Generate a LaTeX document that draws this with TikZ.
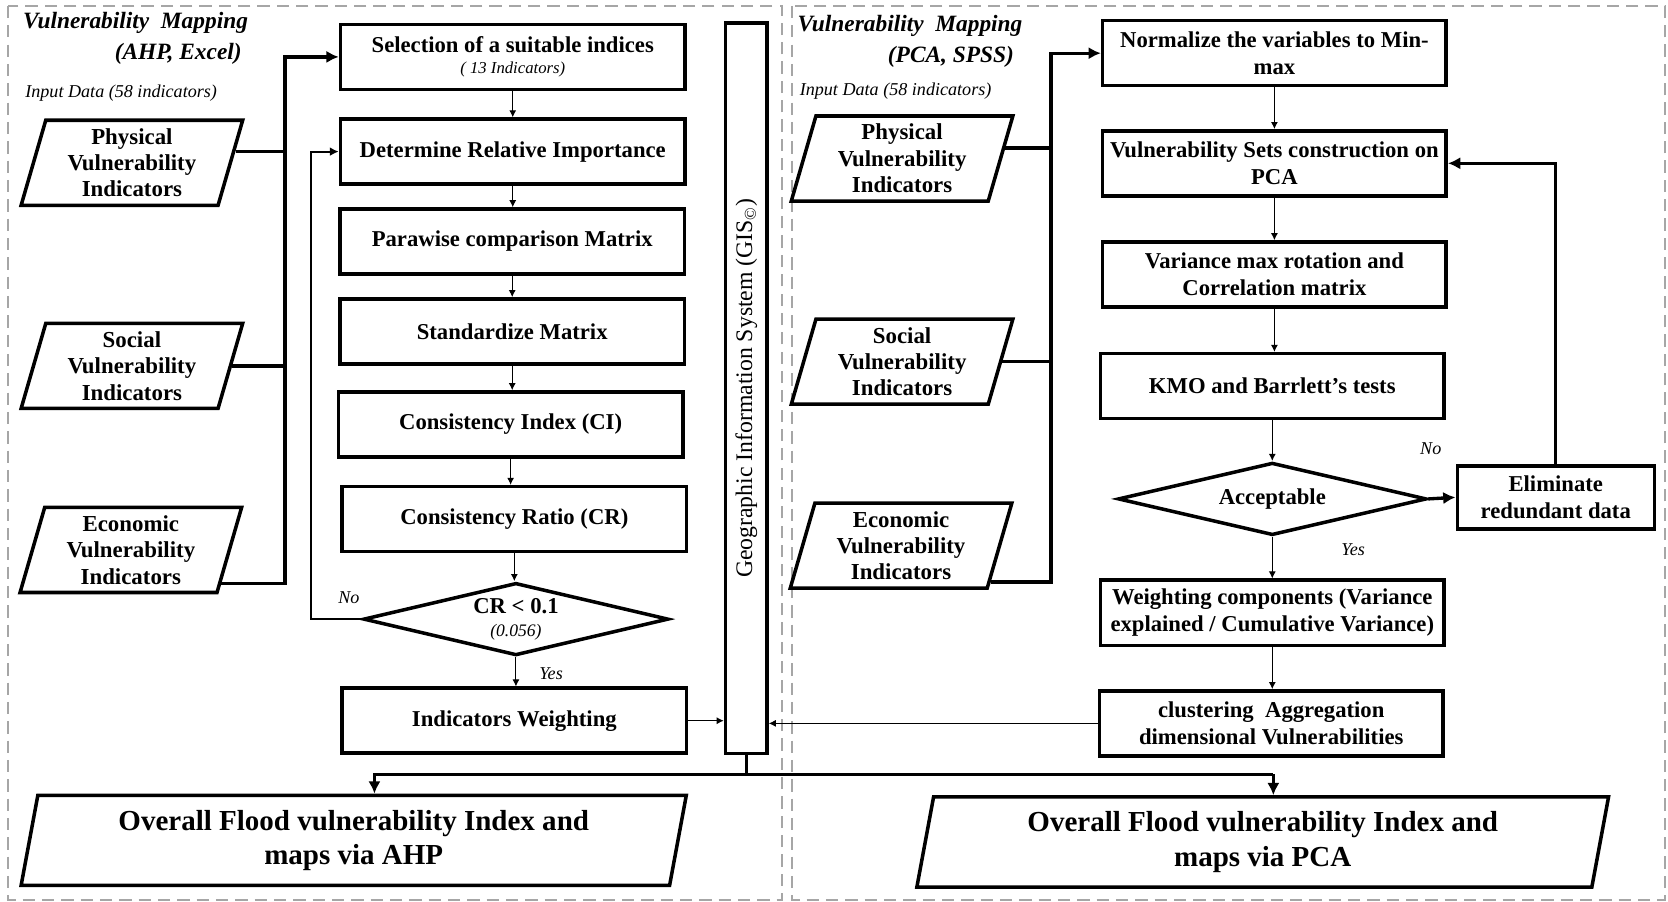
\documentclass[tikz,border=0pt]{standalone}
\usepackage{fontspec}
\setmainfont{Liberation Serif}
\usepackage{graphicx}
\usetikzlibrary{shapes.geometric,arrows.meta,calc}

\newcommand\boxfnt{\fontsize{12.9}{15.3}\selectfont\bfseries}
\newcommand\infnt{\fontsize{13}{15}\selectfont\bfseries}
\newcommand\outfnt{\fontsize{16.5}{19.5}\selectfont\bfseries}
\newcommand\ttlfnt{\fontsize{13.3}{16}\selectfont\bfseries\itshape}
\newcommand\notefnt{\fontsize{10.3}{12}\selectfont\itshape}
\newcommand\gisfnt{\fontsize{13.5}{15}\selectfont}

\begin{document}
\begin{tikzpicture}[x=0.021277cm,y=-0.021277cm,
  panel/.style={draw=black!35,line width=0.8pt,dash pattern=on 7pt off 4pt},
  box/.style={draw,line width=2pt,minimum width=6.89cm,minimum height=1.3cm,align=center,font=\boxfnt},
  inbox/.style={draw,line width=2pt,trapezium,trapezium left angle=73,trapezium right angle=107,trapezium stretches body,minimum width=4.43cm,minimum height=1.7cm,align=center,font=\infnt,inner xsep=0pt},
  outbox/.style={draw,line width=2pt,trapezium,trapezium left angle=77,trapezium right angle=103,trapezium stretches body,minimum height=1.8cm,align=center,font=\outfnt},
  decide/.style={draw,line width=2pt,diamond,aspect=4,minimum width=6.1cm,minimum height=1.45cm,inner sep=0pt,align=center,font=\boxfnt},
  lbl/.style={font=\notefnt},
  flow/.style={line width=0.6pt,-{Latex[length=4pt,width=4pt]}},
  bus/.style={line width=1.9pt},
  tip/.style={-{Latex[length=7pt,width=7pt]}}
]
\useasboundingbox (0,0) rectangle (1568,847);
\draw[panel] (7.5,5.5) rectangle (735,846);
\draw[panel] (744.5,5.5) rectangle (1565,846);

\node[font=\ttlfnt,anchor=west] (ttlA) at (16,22) {Vulnerability\ \ Mapping};
\node[font=\ttlfnt,anchor=east] (subA) at (233,51) {(AHP, Excel)};
\node[lbl,anchor=west] (dataA) at (18,88) {Input Data (58 indicators)};

\node[inbox] (physA) at (124,153) {Physical\\Vulnerability\\Indicators};
\node[inbox] (socA) at (124,344) {Social\\Vulnerability\\Indicators};
\node[inbox] (ecoA) at (123,517) {Economic\\Vulnerability\\Indicators};

\node[box] (sel) at (482,53.5) {Selection of a suitable indices\\[-3pt]{\fontsize{9.5}{11}\selectfont\mdseries\itshape ( 13 Indicators)}};
\node[box] (rel) at (482,142.5) {Determine Relative Importance};
\node[box] (pair) at (481.5,227) {Parawise comparison Matrix};
\node[box] (std) at (481.5,311.5) {Standardize Matrix};
\node[box] (ci) at (480,399) {Consistency Index (CI)};
\node[box] (cr) at (483.5,488) {Consistency Ratio (CR)};
\node[decide] (crtest) at (485,582) {CR \textless{} 0.1\\[-2pt]{\fontsize{10}{11}\selectfont\mdseries\itshape (0.056)}};
\node[box] (wgt) at (483.5,677.5) {Indicators Weighting};
\node[lbl] (noA) at (328,562) {No};
\node[lbl] (yesA) at (518,633) {Yes};

\node[draw,line width=2pt,minimum width=0.83cm,minimum height=14.6cm,inner sep=0pt,font=\gisfnt] (gis) at (701.5,365) {\rotatebox{90}{Geographic Information System (GIS\textsubscript{\textcopyright})}};

\node[font=\ttlfnt,anchor=west] (ttlB) at (744,24) {Vulnerability\ \ Mapping};
\node[font=\ttlfnt,anchor=east] (subB) at (959,53) {(PCA, SPSS)};
\node[lbl,anchor=west] (dataB) at (746,86) {Input Data (58 indicators)};

\node[inbox] (physB) at (848,149) {Physical\\Vulnerability\\Indicators};
\node[inbox] (socB) at (848,340) {Social\\Vulnerability\\Indicators};
\node[inbox] (ecoB) at (847,513) {Economic\\Vulnerability\\Indicators};

\node[box,minimum width=6.87cm] (norm) at (1198,50) {Normalize the variables to Min-\\max};
\node[box,minimum width=6.87cm] (sets) at (1198,153.5) {Vulnerability Sets construction on\\PCA};
\node[box,minimum width=6.87cm] (rot) at (1198,258) {Variance max rotation and\\Correlation matrix};
\node[box,minimum width=6.87cm] (kmo) at (1196,363) {KMO and Barrlett's tests};
\node[decide,minimum width=6.17cm] (acc) at (1196,469) {Acceptable};
\node[box,minimum width=3.94cm,minimum height=1.26cm] (elim) at (1462.5,467.5) {Eliminate\\redundant data};
\node[box,minimum width=6.87cm] (comp) at (1196,576) {Weighting components (Variance\\explained / Cumulative Variance)};
\node[box,minimum width=6.87cm] (clus) at (1195,680) {clustering\ \ Aggregation\\dimensional Vulnerabilities};
\node[lbl] (noB) at (1345,422) {No};
\node[lbl] (yesB) at (1272,517) {Yes};

\node[outbox,minimum width=13.3cm] (outA) at (332.5,790) {Overall Flood vulnerability Index and\\maps via AHP};
\node[outbox,minimum width=13.83cm] (outB) at (1187,791.5) {Overall Flood vulnerability Index and\\maps via PCA};

\coordinate (busA) at (268,0);
\coordinate (busB) at (988,0);
\coordinate (loopA) at (292,0);
\coordinate (splitL) at (352,728);
\coordinate (splitR) at (1197,728);
\coordinate (physAout) at ($(physA.bottom right corner)!0.63!(physA.top right corner)$);
\coordinate (ecoAout) at ($(ecoA.bottom right corner)!0.12!(ecoA.top right corner)$);
\coordinate (physBout) at ($(physB.bottom right corner)!0.62!(physB.top right corner)$);
\coordinate (ecoBout) at ($(ecoB.bottom right corner)!0.09!(ecoB.top right corner)$);

\draw[bus] (physAout) -- (physAout -| busA);
\draw[bus] (socA.east) -- (socA.east -| busA);
\draw[bus,tip] (ecoAout) -- (ecoAout -| busA) |- (sel.west);

\draw[flow] (sel.south) -- (sel.south |- rel.north);
\draw[flow] (rel.south) -- (rel.south |- pair.north);
\draw[flow] (pair.south) -- (pair.south |- std.north);
\draw[flow] (std.south) -- (std.south |- ci.north);
\draw[flow] (ci.south) -- (ci.south |- cr.north);
\draw[flow] (cr.south) -- (cr.south |- crtest.north);
\draw[flow] (crtest.south) -- (crtest.south |- wgt.north);
\draw[line width=1.2pt,-{Latex[length=5pt,width=5pt]}] (crtest.west) -- (crtest.west -| loopA) |- (rel.west);
\draw[flow] (wgt.east) -- (wgt.east -| gis.west);

\draw[bus] (physBout) -- (physBout -| busB);
\draw[bus] (socB.east) -- (socB.east -| busB);
\draw[bus,tip] (ecoBout) -- (ecoBout -| busB) |- (norm.west);

\draw[flow] (norm.south) -- (norm.south |- sets.north);
\draw[flow] (sets.south) -- (sets.south |- rot.north);
\draw[flow] (rot.south) -- (rot.south |- kmo.north);
\draw[flow] (kmo.south) -- (kmo.south |- acc.north);
\draw[flow] (acc.south) -- (acc.south |- comp.north);
\draw[flow] (comp.south) -- (comp.south |- clus.north);
\draw[bus,tip] (acc.east) -- (elim.west);
\draw[bus,tip] (elim.north) |- (sets.east);
\draw[flow] (clus.west) -- (clus.west -| gis.east);

\draw[bus] (gis.south) -- (gis.south |- splitL);
\draw[bus,tip] (splitR) -- (splitL) -- (splitL |- outA.north);
\draw[bus,tip] (splitR) -- (splitR |- outB.north);
\end{tikzpicture}
\end{document}
